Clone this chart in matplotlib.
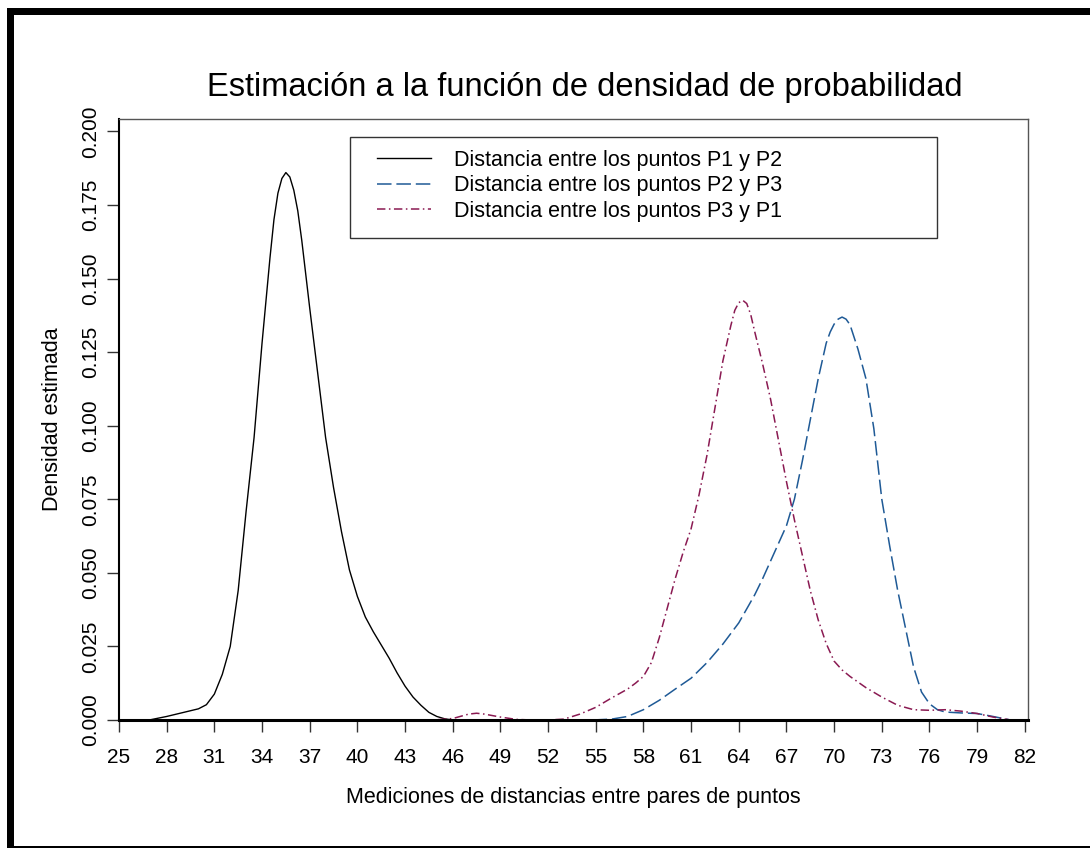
import matplotlib
matplotlib.use("Agg")
import matplotlib.pyplot as plt
from matplotlib.patches import Rectangle
from matplotlib.ticker import FormatStrFormatter

plt.rcParams['font.family'] = ['Liberation Sans', 'DejaVu Sans']

# Estimated densities (x = distance, y = density)
x_p1p2 = [26.9, 28, 29, 30, 30.5, 31, 31.5, 32, 32.5, 33, 33.5, 34, 34.5, 34.75, 35,
          35.25, 35.5, 35.75, 36, 36.25, 36.5, 37, 37.5, 38, 38.5, 39, 39.5, 40, 40.5,
          41, 41.5, 42, 42.5, 43, 43.5, 44, 44.5, 45, 45.5, 46]
d_p1p2 = [0.0, 0.0012, 0.0025, 0.0038, 0.0052, 0.0088, 0.0155, 0.025, 0.044, 0.071,
          0.096, 0.128, 0.157, 0.170, 0.179, 0.184, 0.186, 0.1845, 0.180, 0.173, 0.163,
          0.140, 0.118, 0.096, 0.079, 0.064, 0.051, 0.042, 0.035, 0.030, 0.0255, 0.021,
          0.016, 0.0115, 0.0078, 0.005, 0.0026, 0.0012, 0.0004, 0.0]

x_p2p3 = [54.8, 56, 57, 58, 59, 60, 61, 62, 63, 64, 65, 65.5, 66, 66.5, 67, 67.5, 68,
          68.5, 69, 69.5, 69.75, 70, 70.25, 70.5, 70.75, 71, 71.5, 72, 72.5, 73, 73.5,
          74, 74.5, 75, 75.5, 76, 76.5, 77, 78, 79, 80, 81]
d_p2p3 = [0.0, 0.0003, 0.0012, 0.0035, 0.0067, 0.0105, 0.0142, 0.0195, 0.0258, 0.033,
          0.0425, 0.048, 0.054, 0.060, 0.066, 0.075, 0.088, 0.102, 0.116, 0.128, 0.1318,
          0.1345, 0.1362, 0.1369, 0.1362, 0.1343, 0.126, 0.116, 0.099, 0.075, 0.059,
          0.044, 0.031, 0.018, 0.0095, 0.0055, 0.0035, 0.0027, 0.0024, 0.0022, 0.0012,
          0.0001]

x_p3p1 = [44, 45, 46, 47, 47.5, 48, 49, 50, 51, 52, 53, 54, 55, 56, 57, 57.5, 58, 58.5,
          59, 59.5, 60, 60.5, 61, 61.5, 62, 62.5, 63, 63.5, 63.75, 64, 64.25, 64.5,
          64.75, 65, 65.5, 66, 66.5, 67, 67.5, 68, 68.5, 69, 69.5, 70, 70.5, 71, 72, 73,
          74, 75, 76, 77, 78, 79, 80, 81]
d_p3p1 = [0.0, 0.0001, 0.0005, 0.002, 0.0023, 0.002, 0.001, 0.0002, 0.0, 0.0, 0.0003,
          0.002, 0.0043, 0.0075, 0.0105, 0.0125, 0.0148, 0.0195, 0.028, 0.038, 0.048,
          0.057, 0.065, 0.0765, 0.090, 0.106, 0.122, 0.134, 0.1392, 0.1418, 0.1426,
          0.1415, 0.1378, 0.132, 0.121, 0.109, 0.095, 0.081, 0.068, 0.056, 0.044, 0.034,
          0.026, 0.020, 0.017, 0.0148, 0.011, 0.0078, 0.005, 0.0035, 0.0033, 0.0035,
          0.003, 0.0022, 0.001, 0.0001]

labels = ["Distancia entre los puntos P1 y P2",
          "Distancia entre los puntos P2 y P3",
          "Distancia entre los puntos P3 y P1"]
x_ticks = list(range(25, 83, 3))
y_ticks = [0.0, 0.025, 0.05, 0.075, 0.1, 0.125, 0.15, 0.175, 0.2]

W, H = 1090, 848
fig = plt.figure(figsize=(W / 100, H / 100), dpi=100)


def fx(px):
    return px / W


def fy(py):
    return 1 - py / H


ax = fig.add_axes([fx(119), fy(720), fx(1028) - fx(119), fy(119) - fy(720)])

ax.plot(x_p1p2, d_p1p2, color='black', lw=1.0, label=labels[0])
ax.plot(x_p2p3, d_p2p3, color='#1f5a96', lw=1.1, dashes=(9.5, 3.2), label=labels[1])
ax.plot(x_p3p1, d_p3p1, color='#8a1a52', lw=1.1, dashes=(5.5, 2.3, 1.0, 2.3),
        label=labels[2])

ax.set_xlim(25, 82.2)
ax.set_ylim(0, 0.2042)
ax.set_xticks(x_ticks)
ax.set_yticks(y_ticks)
ax.yaxis.set_major_formatter(FormatStrFormatter('%.3f'))
ax.tick_params(axis='both', direction='out', length=8.5, width=1.0, color='#333333',
               labelsize=15)
ax.tick_params(axis='x', pad=12)
ax.tick_params(axis='y', pad=5)
for lab in ax.get_yticklabels():
    lab.set_rotation(90)
    lab.set_va('center')

for side in ('top', 'right'):
    ax.spines[side].set_color('#555555')
    ax.spines[side].set_linewidth(1.0)
ax.spines['left'].set_color('black')
ax.spines['left'].set_linewidth(1.5)
ax.spines['bottom'].set_color('black')
ax.spines['bottom'].set_linewidth(2.2)

ax.set_xlabel("Mediciones de distancias entre pares de puntos", fontsize=15.5)
ax.xaxis.set_label_coords(0.5, (720 - 797) / 601)
ax.xaxis.label.set_va('center')
ax.set_ylabel("Densidad estimada", fontsize=15.5)
ax.yaxis.set_label_coords((53 - 119) / 909, 0.5)
ax.yaxis.label.set_va('center')

fig.text(fx(585), fy(96), "Estimación a la función de densidad de probabilidad",
         fontsize=23.5, ha='center', va='baseline')

leg = ax.legend(loc='upper left', bbox_to_anchor=(fx(377), fy(150)),
                bbox_transform=fig.transFigure, frameon=False, fontsize=15.5,
                borderpad=0, borderaxespad=0, handlelength=2.5, handletextpad=1.1,
                labelspacing=0.2)
fig.add_artist(Rectangle((fx(350), fy(238)), fx(937) - fx(350), fy(137) - fy(238),
                         transform=fig.transFigure, fill=False, edgecolor='#333333',
                         lw=1.0))

# page frame
fig.add_artist(Rectangle((fx(7), fy(847)), fx(7), fy(8) - fy(847),
                         transform=fig.transFigure, color='black', lw=0))
fig.add_artist(Rectangle((fx(7), fy(15)), 1 - fx(7), fy(8) - fy(15),
                         transform=fig.transFigure, color='black', lw=0))
fig.add_artist(Rectangle((fx(7), fy(847.5)), 1 - fx(7), fy(846) - fy(847.5),
                         transform=fig.transFigure, color='black', lw=0))

fig.savefig("out.png", dpi=100)
